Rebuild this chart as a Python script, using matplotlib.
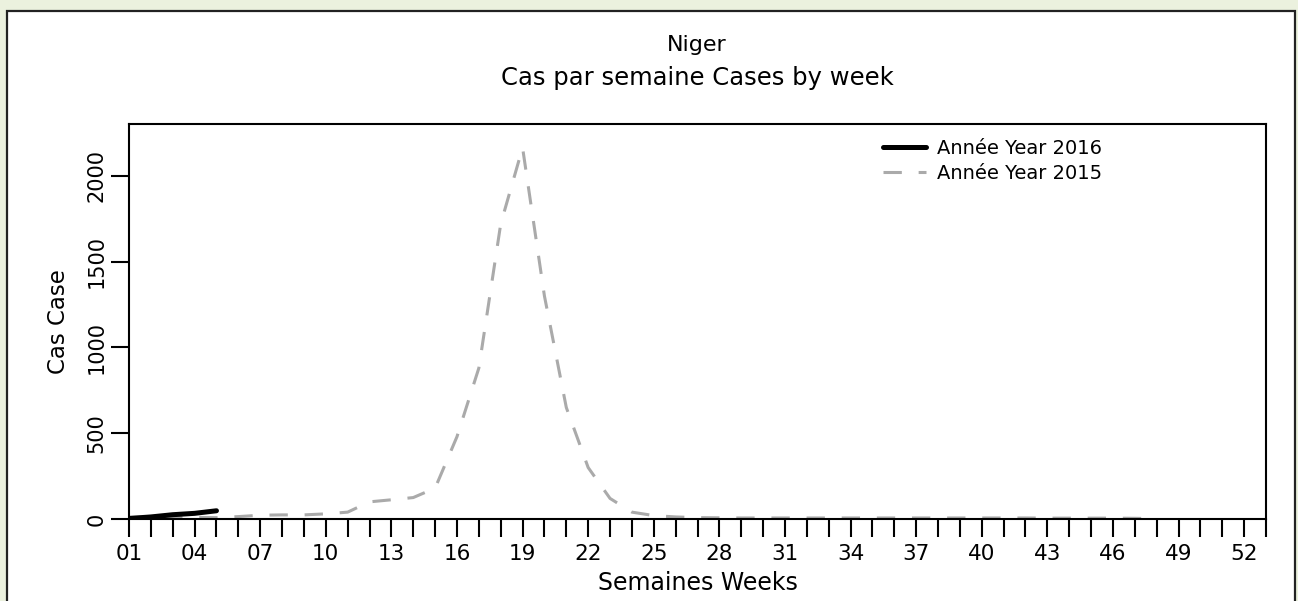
import matplotlib.pyplot as plt
from matplotlib.patches import Rectangle

# valeurs
weeks_2016 = [1, 2, 3, 4, 5]
cases_2016 = [3, 12, 25, 33, 48]

weeks_2015 = list(range(1, 49))
cases_2015 = [10, 12, 10, 9, 8, 14, 22, 24, 24, 30, 40, 100, 112, 125, 180, 480,
              880, 1720, 2165, 1300, 650, 300, 120, 40, 20, 12, 8, 7, 6, 6,
              6, 6, 6, 6, 6, 6, 6, 6, 6, 6, 6, 6, 5, 5, 5, 5, 4, 2]

week_ticks = list(range(1, 54))
week_labels = ['%02d' % w if (w - 1) % 3 == 0 and w <= 52 else '' for w in week_ticks]
case_ticks = [0, 500, 1000, 1500, 2000]

fig = plt.figure(figsize=(12.98, 6.01), dpi=100)
fig.patch.set_facecolor('#EBF1DE')
# panneau blanc
fig.patches.append(Rectangle((7 / 1298, -0.05), (1295 - 7) / 1298, 1.05 - 11 / 601,
                             transform=fig.transFigure, facecolor='white',
                             edgecolor='#222222', linewidth=1.6, zorder=-10))

ax = fig.add_axes([129 / 1298, 1 - 519 / 601, (1266 - 129) / 1298, (519 - 124) / 601])
ax.set_facecolor('white')

ax.plot(weeks_2015, cases_2015, color='#AAAAAA', linewidth=2.2,
        linestyle=(0, (6, 5.5)), label='Année Year 2015', zorder=2)
ax.plot(weeks_2016, cases_2016, color='black', linewidth=3.6,
        solid_capstyle='round', label='Année Year 2016', zorder=3)

ax.set_xlim(1, 53)
ax.set_ylim(0, 2303)
ax.set_xticks(week_ticks)
ax.set_xticklabels(week_labels, fontsize=15.5)
ax.set_yticks(case_ticks)
ax.set_yticklabels([str(v) for v in case_ticks], fontsize=15, rotation=90, va='center')
ax.tick_params(length=13, width=1.5)
ax.tick_params(axis='x', pad=5)
ax.tick_params(axis='y', pad=3)
for s in ax.spines.values():
    s.set_linewidth(1.5)

ax.set_xlabel('Semaines Weeks', fontsize=17, labelpad=5)
ax.set_ylabel('Cas Case', fontsize=16.5, labelpad=12)

fig.text(697 / 1298, 1 - 45 / 601, 'Niger', ha='center', va='center', fontsize=16)
fig.text(697 / 1298, 1 - 78 / 601, 'Cas par semaine Cases by week', ha='center',
         va='center', fontsize=17.5)

h, l = ax.get_legend_handles_labels()
ax.legend(h[::-1], l[::-1], loc='upper left', bbox_to_anchor=(883 / 1298, 1 - 139 / 601),
          bbox_transform=fig.transFigure, frameon=False, fontsize=14,
          handlelength=2.2, handletextpad=0.6, borderpad=0, borderaxespad=0,
          labelspacing=0.3)

plt.savefig('out.png', dpi=100, facecolor=fig.get_facecolor())
